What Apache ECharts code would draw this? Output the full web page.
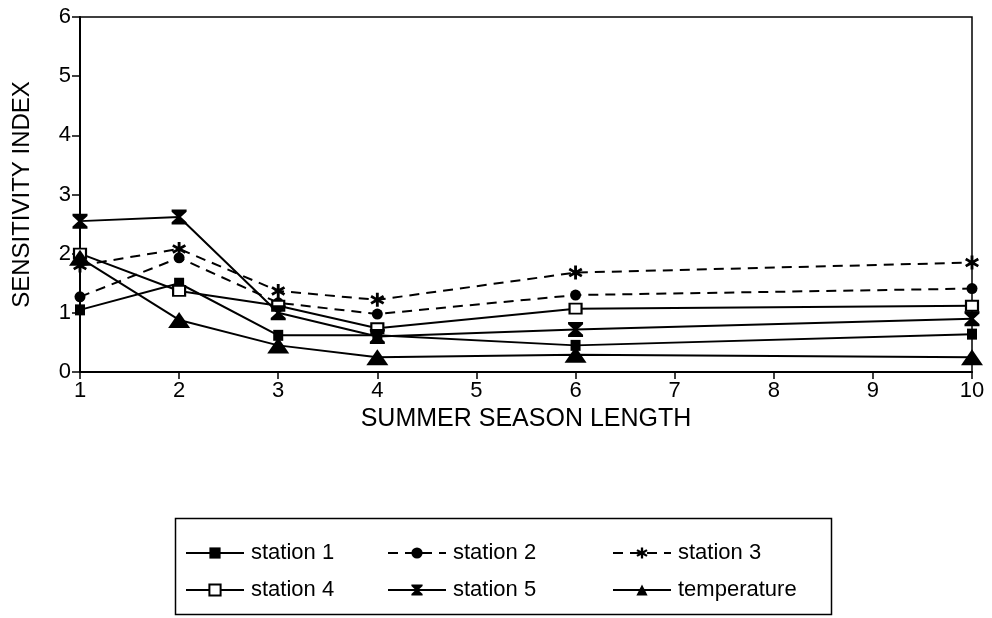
<!DOCTYPE html>
<html>
<head>
<meta charset="utf-8">
<script src="https://cdn.jsdelivr.net/npm/echarts@6/dist/echarts.min.js"></script>
<style>
html,body{margin:0;padding:0;background:#fff;}
#c{width:992px;height:618px;}
</style>
</head>
<body>
<div id="c"></div>
<script>
var xValues = [1, 2, 3, 4, 6, 10];
var station1 = [1.05, 1.50, 0.62, 0.62, 0.45, 0.64];
var station2 = [1.27, 1.93, 1.17, 0.98, 1.30, 1.41];
var station3 = [1.80, 2.08, 1.37, 1.22, 1.68, 1.85];
var station4 = [2.00, 1.37, 1.12, 0.74, 1.07, 1.12];
var station5 = [2.55, 2.62, 1.00, 0.60, 0.72, 0.90];
var temperature = [1.93, 0.88, 0.45, 0.25, 0.29, 0.25];
var seriesNames = ['station 1', 'station 2', 'station 3', 'station 4', 'station 5', 'temperature'];
var xAxisName = 'SUMMER SEASON LENGTH';
var yAxisName = 'SENSITIVITY INDEX';

var FONT = '"Liberation Sans", Arial, Helvetica, sans-serif';
var asterisk = 'path://M4,0 L6,0 L6,3.3 L8.9,1.6 L9.9,3.3 L7,5 L9.9,6.7 L8.9,8.4 L6,6.7 L6,10 L4,10 L4,6.7 L1.1,8.4 L0.1,6.7 L3,5 L0.1,3.3 L1.1,1.6 L4,3.3 Z';
var hourglass = 'path://M0,0 L10,0 L10,1.5 L6.2,5 L10,8.5 L10,10 L0,10 L0,8.5 L3.8,5 L0,1.5 Z';

function pairs(arr) { return xValues.map(function (x, i) { return [x, arr[i]]; }); }

var styles = [
  { data: station1, symbol: 'rect', size: [10, 11], dashed: false, fill: '#000' },
  { data: station2, symbol: 'circle', size: 11, dashed: true, fill: '#000' },
  { data: station3, symbol: asterisk, size: 14, dashed: true, fill: '#000' },
  { data: station4, symbol: 'rect', size: [12, 10], dashed: false, fill: '#fff' },
  { data: station5, symbol: hourglass, size: 15, dashed: false, fill: '#000' },
  { data: temperature, symbol: 'triangle', size: [22, 16], dashed: false, fill: '#000' }
];

var series = styles.map(function (s, i) {
  return {
    name: seriesNames[i],
    type: 'line',
    data: pairs(s.data),
    symbol: s.symbol,
    symbolSize: s.size,
    showAllSymbol: true,
    z: 3 + i,
    lineStyle: { color: '#000', width: 2, type: s.dashed ? [10, 7] : 'solid' },
    itemStyle: { color: s.fill, borderColor: '#000', borderWidth: s.fill === '#fff' ? 2 : 0 },
    emphasis: { disabled: true },
    animation: false
  };
});

var legendPos = [
  { left: 185, top: 542 }, { left: 387, top: 542 }, { left: 612, top: 542 },
  { left: 185, top: 579 }, { left: 387, top: 579 }, { left: 612, top: 579 }
];
var legends = seriesNames.map(function (n, i) {
  return {
    data: [n],
    left: legendPos[i].left,
    top: legendPos[i].top,
    itemWidth: 58,
    itemHeight: 14,
    padding: 0,
    selectedMode: false,
    textStyle: { color: '#000', fontSize: 22, fontFamily: FONT, padding: [0, 0, 0, 2] }
  };
});

var chart = echarts.init(document.getElementById('c'), null, { renderer: 'canvas' });
chart.setOption({
  backgroundColor: '#fff',
  animation: false,
  grid: { left: 80, right: 20, top: 17, bottom: 246, show: true, borderColor: '#000', borderWidth: 1.5, backgroundColor: 'transparent' },
  xAxis: {
    type: 'value', min: 1, max: 10, interval: 1,
    name: xAxisName, nameLocation: 'middle', nameGap: 32,
    nameTextStyle: { color: '#000', fontSize: 25, fontFamily: FONT },
    axisLine: { onZero: false, lineStyle: { color: '#000', width: 2 } },
    axisTick: { show: true, inside: false, length: 7, lineStyle: { color: '#000', width: 1.5 } },
    axisLabel: { color: '#000', fontSize: 22, fontFamily: FONT, margin: 8 },
    splitLine: { show: false }
  },
  yAxis: {
    type: 'value', min: 0, max: 6, interval: 1,
    name: yAxisName, nameLocation: 'middle', nameGap: 46,
    nameTextStyle: { color: '#000', fontSize: 24, fontFamily: FONT },
    axisLine: { show: true, lineStyle: { color: '#000', width: 2 } },
    axisTick: { show: true, inside: false, length: 8, lineStyle: { color: '#000', width: 1.5 } },
    axisLabel: { color: '#000', fontSize: 22, fontFamily: FONT, margin: 9 },
    splitLine: { show: false }
  },
  legend: legends,
  graphic: [{
    type: 'rect', left: 173, top: 516,
    shape: { width: 656, height: 96 },
    style: { fill: 'none', stroke: '#000', lineWidth: 1.5 }
  }],
  series: series
});
</script>
</body>
</html>
